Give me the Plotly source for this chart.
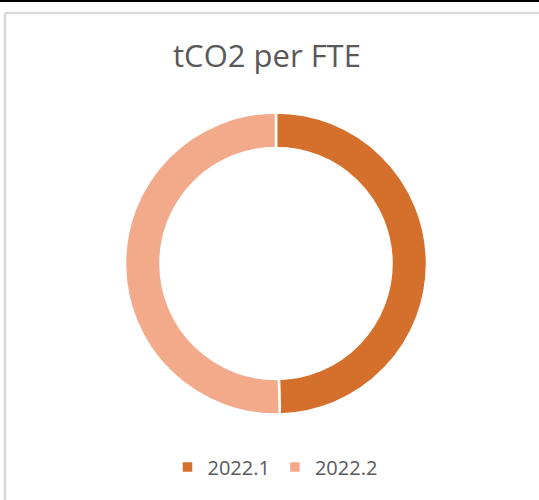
import plotly.graph_objects as go

categories = ["2022.1", "2022.2"]
values = [1.24, 1.26]
colors = ["#D4702B", "#F2AA8B"]

W, H = 539, 500
cx, cy, R = 276, 263.5, 151

fig = go.Figure(go.Pie(
    labels=categories,
    values=values,
    hole=0.765,
    sort=False,
    direction="clockwise",
    rotation=0,
    textinfo="none",
    hoverinfo="label+value",
    marker=dict(colors=colors, line=dict(color="white", width=2.5)),
    domain=dict(x=[(cx - R) / W, (cx + R) / W], y=[(H - cy - R) / H, (H - cy + R) / H]),
))

fig.update_layout(
    width=W, height=H,
    margin=dict(l=0, r=0, t=0, b=0),
    paper_bgcolor="white",
    plot_bgcolor="white",
    font=dict(family="Open Sans, Liberation Sans, sans-serif", color="#595959"),
    title=dict(text="tCO2 per FTE", x=267 / W, xanchor="center", y=1 - 56 / H, yanchor="middle",
               font=dict(size=31, color="#595959")),
    legend=dict(orientation="h", x=275 / W, xanchor="center", y=33 / H, yanchor="middle",
                font=dict(size=20, color="#595959"), itemwidth=30),
    showlegend=True,
    shapes=[
        dict(type="line", xref="paper", yref="paper", x0=0, x1=1, y0=1 - 1 / H, y1=1 - 1 / H,
             line=dict(color="black", width=2)),
        dict(type="line", xref="paper", yref="paper", x0=5 / W, x1=1.02, y0=1 - 13 / H, y1=1 - 13 / H,
             line=dict(color="#D9D9D9", width=2.5)),
        dict(type="line", xref="paper", yref="paper", x0=5 / W, x1=5 / W, y0=1 - 13 / H, y1=-0.02,
             line=dict(color="#D9D9D9", width=2.5)),
    ],
)

fig.write_html("out.html", config={"displayModeBar": False},
               post_script="document.body.style.margin='0';document.body.style.overflow='hidden';")
